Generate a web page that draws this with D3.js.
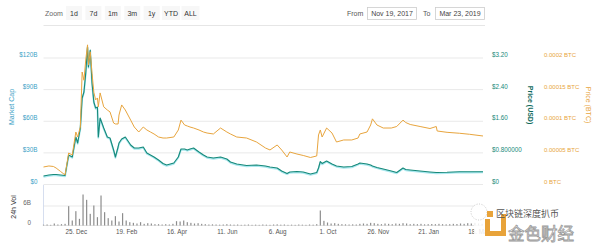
<!DOCTYPE html>
<html>
<head>
<meta charset="utf-8">
<script src="https://cdn.jsdelivr.net/npm/d3@7"></script>
<style>
  html, body { margin: 0; padding: 0; background: #fff; }
  svg { display: block; font-family: "Liberation Sans", Arial, sans-serif; }
  .domain { display: none; }
</style>
</head>
<body>
<svg id="chart" width="600" height="245"></svg>
<script>
// dates of the traced points
var dates = ["2017-11-19","2017-11-25","2017-11-30","2017-12-03","2017-12-08","2017-12-13","2017-12-17","2017-12-21",
  "2017-12-25","2017-12-27","2017-12-30","2018-01-01","2018-01-03","2018-01-05","2018-01-07","2018-01-08",
  "2018-01-10","2018-01-12","2018-01-14","2018-01-16","2018-01-18","2018-01-19","2018-01-21","2018-01-25",
  "2018-01-29","2018-02-01","2018-02-05","2018-02-07","2018-02-10","2018-02-11","2018-02-14","2018-02-18",
  "2018-02-24","2018-02-28","2018-03-05","2018-03-10","2018-03-14","2018-03-18","2018-03-22","2018-03-27",
  "2018-04-01","2018-04-05","2018-04-13","2018-04-18","2018-04-21","2018-04-25","2018-04-28","2018-05-01",
  "2018-05-05","2018-05-11","2018-05-16","2018-05-20","2018-05-27","2018-06-04","2018-06-11","2018-06-15",
  "2018-06-22","2018-07-03","2018-07-14","2018-07-24","2018-07-29","2018-08-06","2018-08-11","2018-08-17",
  "2018-08-20","2018-08-28","2018-09-04","2018-09-12","2018-09-19","2018-09-21","2018-09-23","2018-09-25",
  "2018-09-30","2018-10-06","2018-10-11","2018-10-19","2018-10-28","2018-11-04","2018-11-06","2018-11-14",
  "2018-11-18","2018-11-20","2018-11-25","2018-12-02","2018-12-11","2018-12-17","2018-12-24","2018-12-27",
  "2019-01-01","2019-01-12","2019-01-23","2019-01-30","2019-01-31","2019-02-11","2019-02-25","2019-03-08",
  "2019-03-23"];

// market cap, billions USD
var marketCap = [7.6,8.5,9.0,9.0,8.5,8.1,27.5,25.6,44.6,38.9,53.1,81.6,87.3,105.3,130.0,111.0,
  127.1,95.8,77.8,72.1,73.0,44.6,62.6,53.1,44.6,43.6,32.3,25.6,35.1,38.9,42.7,44.6,
  37.0,34.1,34.1,35.1,29.4,27.5,25.6,22.8,19.4,18.0,19.9,25.6,33.2,33.2,32.3,33.2,
  34.1,30.4,27.5,25.6,24.7,25.6,23.7,20.9,19.0,17.5,18.0,17.1,16.1,15.2,12.3,10.0,
  11.4,11.9,11.4,9.5,10.9,15.2,21.3,19.4,21.8,19.0,17.1,16.1,16.6,19.0,19.9,19.0,
  18.0,17.1,15.7,14.2,12.3,10.9,15.2,13.8,13.3,12.3,11.4,10.9,10.9,11.1,11.7,11.6,11.7];

// price in USD
var priceUsd = [0.202,0.228,0.240,0.240,0.228,0.215,0.734,0.683,1.189,1.037,1.417,2.176,2.327,2.808,3.466,2.960,
  3.390,2.555,2.074,1.923,1.948,1.189,1.670,1.417,1.189,1.164,0.860,0.683,0.936,1.037,1.138,1.189,
  0.987,0.911,0.911,0.936,0.784,0.734,0.683,0.607,0.519,0.481,0.531,0.683,0.885,0.885,0.860,0.885,
  0.911,0.810,0.734,0.683,0.658,0.683,0.632,0.557,0.506,0.468,0.481,0.455,0.430,0.405,0.329,0.266,
  0.304,0.316,0.304,0.253,0.291,0.405,0.569,0.519,0.582,0.506,0.455,0.430,0.443,0.506,0.531,0.506,
  0.481,0.455,0.417,0.379,0.329,0.291,0.405,0.367,0.354,0.329,0.304,0.291,0.291,0.296,0.311,0.309,0.311];

// price in BTC
var priceBtc = [0.0000269,0.0000285,0.0000277,0.0000253,0.0000198,0.0000142,0.0000490,0.0000458,
  0.0000822,0.0000743,0.0000901,0.000177,0.000164,0.000196,0.000220,0.000188,
  0.000209,0.000175,0.000145,0.000133,0.000136,0.000122,0.000144,0.000122,
  0.000117,0.000114,0.0000964,0.0000949,0.0000949,0.000109,0.000125,0.000117,
  0.000101,0.0000901,0.0000822,0.0000901,0.0000854,0.0000822,0.0000791,0.0000743,
  0.0000727,0.0000727,0.0000743,0.0000854,0.000101,0.0000933,0.0000917,0.0000901,
  0.0000885,0.0000854,0.0000822,0.0000806,0.0000791,0.0000885,0.0000822,0.0000791,
  0.0000743,0.0000727,0.0000664,0.0000569,0.0000538,0.0000617,0.0000538,0.0000427,
  0.0000506,0.0000474,0.0000451,0.0000419,0.0000443,0.0000775,0.0000854,0.0000743,
  0.0000885,0.0000806,0.0000664,0.0000696,0.0000696,0.0000727,0.0000791,0.0000822,
  0.0000933,0.000103,0.0000933,0.0000885,0.0000885,0.0000909,0.000101,0.0000972,
  0.0000941,0.0000909,0.0000877,0.0000909,0.0000838,0.0000817,0.0000802,0.0000786,0.0000759];

// 24h volume, billions USD, one value every 4 days from volStart
var volStart = "2017-11-19";
var volume = [0.25,0.3,0.2,0.6,0.3,0.4,0.5,5.8,1.5,4.3,2.0,9.3,7.7,3.5,6.0,2.5,
  9.0,4.0,2.2,1.5,2.8,1.2,3.7,1.5,1.0,0.8,0.6,1.0,0.5,0.7,0.6,0.4,
  0.4,0.3,0.4,0.3,0.5,1.3,1.2,1.5,1.0,0.8,0.6,0.7,0.5,0.4,0.3,0.35,
  0.3,0.25,0.3,0.4,0.3,0.25,0.3,0.2,0.25,0.3,0.2,0.25,0.2,0.3,0.25,0.2,
  0.3,0.35,0.25,0.3,0.2,0.25,0.2,0.3,0.25,0.2,0.3,0.25,0.4,4.5,1.4,0.9,
  0.6,0.7,0.5,0.4,0.35,0.3,0.35,0.3,0.5,0.6,0.5,0.8,0.7,0.5,0.4,0.6,
  0.5,0.4,0.6,0.5,0.7,0.6,0.4,0.5,0.4,0.5,0.35,0.4,0.45,0.4,0.5,0.4,
  0.35,0.4,0.5,0.45,0.6,0.5,0.7,0.6,0.8,0.6,0.5];

// axis ticks and labels
var capTicks = [0, 30, 60, 90, 120];
var capLabels = ["$0", "$30B", "$60B", "$90B", "$120B"];
var usdTicks = [0, 0.8, 1.6, 2.4, 3.2];
var usdLabels = ["$0", "$0.800000", "$1.60", "$2.40", "$3.20"];
var btcTicks = [0, 0.00005, 0.0001, 0.00015, 0.0002];
var btcLabels = ["0 BTC", "0.00005 BTC", "0.0001 BTC", "0.00015 BTC", "0.0002 BTC"];
var volTicks = [0, 6];
var volLabels = ["0", "6B"];
var dateTicks = ["2017-12-25","2018-02-19","2018-04-16","2018-06-11","2018-08-06","2018-10-01","2018-11-26","2019-01-21","2019-03-18"];
var zoomButtons = ["1d", "7d", "1m", "3m", "1y", "YTD", "ALL"];

var parse = d3.timeParse("%Y-%m-%d");
var svg = d3.select("#chart");

var left = 43.5, right = 483;
var x = d3.scaleTime().domain([parse("2017-11-19"), parse("2019-03-23")]).range([left, right]);
var yCap = d3.scaleLinear().domain([0, 120]).range([184, 57.5]);
var yUsd = d3.scaleLinear().domain([0, 3.2]).range([184, 57.5]);
var yBtc = d3.scaleLinear().domain([0, 0.0002]).range([184, 57.5]);
var yVol = d3.scaleLinear().domain([0, 6]).range([225.5, 205.5]);

var capColor = "#3d9fc6", usdColor = "#17897a", btcColor = "#e8a53e";

// header: zoom buttons + date range
var head = svg.append("g");
head.append("text").attr("x", 45).attr("y", 15.5).attr("font-size", 7).attr("fill", "#666").text("Zoom");
var bx = d3.scalePoint().domain(zoomButtons).range([74, 190.5]);
var btn = head.selectAll("g.btn").data(zoomButtons).enter().append("g").attr("class", "btn")
  .attr("transform", function(d){ return "translate(" + bx(d) + ",0)"; });
btn.append("rect").attr("x", function(d){ return d.length > 2 ? -9 : -8; }).attr("y", 6)
  .attr("width", function(d){ return d.length > 2 ? 18 : 16; }).attr("height", 14).attr("fill", "#f7f7f7");
btn.append("text").attr("text-anchor", "middle").attr("y", 15.5).attr("font-size", 7).attr("fill", "#333").text(function(d){ return d; });

head.append("text").attr("x", 347).attr("y", 15.5).attr("font-size", 7).attr("fill", "#555").text("From");
head.append("rect").attr("x", 367.5).attr("y", 7.5).attr("width", 49).attr("height", 12).attr("fill", "#fff").attr("stroke", "#ccc").attr("stroke-width", 0.8);
head.append("text").attr("x", 392).attr("y", 15.5).attr("text-anchor", "middle").attr("font-size", 7).attr("fill", "#444").text("Nov 19, 2017");
head.append("text").attr("x", 423).attr("y", 15.5).attr("font-size", 7).attr("fill", "#555").text("To");
head.append("rect").attr("x", 435.5).attr("y", 7.5).attr("width", 49).attr("height", 12).attr("fill", "#fff").attr("stroke", "#ccc").attr("stroke-width", 0.8);
head.append("text").attr("x", 460).attr("y", 15.5).attr("text-anchor", "middle").attr("font-size", 7).attr("fill", "#444").text("Mar 23, 2019");
head.append("line").attr("x1", left).attr("x2", 485).attr("y1", 25.5).attr("y2", 25.5).attr("stroke", "#e6e6e6");

// gridlines
svg.append("g").attr("transform", "translate(" + left + ",0)")
  .call(d3.axisLeft(yCap).tickValues(capTicks).tickSize(-(right - left)).tickFormat(""))
  .call(function(g){ g.selectAll(".tick line").attr("stroke", "#e9e9e9"); });

// left axis: market cap
svg.append("g").attr("transform", "translate(" + (left - 6) + ",0)")
  .call(d3.axisLeft(yCap).tickValues(capTicks).tickSize(0).tickPadding(0).tickFormat(function(d, i){ return capLabels[i]; }))
  .call(function(g){ g.selectAll("text").attr("font-size", 6.3).attr("fill", capColor).attr("dy", "-0.15em"); });
svg.append("text").attr("transform", "translate(14,107) rotate(-90)").attr("text-anchor", "middle")
  .attr("font-size", 7).attr("fill", capColor).text("Market Cap");

// right axis: USD price
svg.append("g").attr("transform", "translate(492,0)")
  .call(d3.axisRight(yUsd).tickValues(usdTicks).tickSize(0).tickPadding(0).tickFormat(function(d, i){ return usdLabels[i]; }))
  .call(function(g){ g.selectAll("text").attr("font-size", 6.3).attr("fill", usdColor).attr("dy", "-0.15em"); });
svg.append("text").attr("transform", "translate(528,105) rotate(90)").attr("text-anchor", "middle")
  .attr("font-size", 7).attr("font-weight", "bold").attr("fill", "#0f6a5c").text("Price (USD)");

// right axis: BTC price
svg.append("g").attr("transform", "translate(544,0)")
  .call(d3.axisRight(yBtc).tickValues(btcTicks).tickSize(0).tickPadding(0).tickFormat(function(d, i){ return btcLabels[i]; }))
  .call(function(g){ g.selectAll("text").attr("font-size", 6).attr("fill", btcColor).attr("dy", "-0.15em"); });
svg.append("text").attr("transform", "translate(586,105) rotate(90)").attr("text-anchor", "middle")
  .attr("font-size", 7).attr("fill", btcColor).text("Price (BTC)");

// price lines
var pts = dates.map(function(d, i){ return { date: parse(d), cap: marketCap[i], usd: priceUsd[i], btc: priceBtc[i] }; });
svg.append("path").datum(pts).attr("fill", "none").attr("stroke", "#a9e7ee").attr("stroke-width", 1.8)
  .attr("stroke-linejoin", "round")
  .attr("d", d3.line().x(function(d){ return x(d.date); }).y(function(d){ return yCap(d.cap) + 0.8; }));
svg.append("path").datum(pts).attr("fill", "none").attr("stroke", usdColor).attr("stroke-width", 1.1)
  .attr("stroke-linejoin", "round")
  .attr("d", d3.line().x(function(d){ return x(d.date); }).y(function(d){ return yUsd(d.usd); }));
svg.append("path").datum(pts).attr("fill", "none").attr("stroke", btcColor).attr("stroke-width", 1)
  .attr("stroke-linejoin", "round")
  .attr("d", d3.line().x(function(d){ return x(d.date); }).y(function(d){ return yBtc(d.btc); }));

// volume panel
var vol = svg.append("g");
vol.append("g").attr("transform", "translate(" + left + ",0)")
  .call(d3.axisLeft(yVol).tickValues([6]).tickSize(-(right - left)).tickFormat(""))
  .call(function(g){ g.selectAll(".tick line").attr("stroke", "#e9e9e9"); });
vol.append("line").attr("x1", left).attr("x2", left).attr("y1", 185).attr("y2", 225.5).attr("stroke", "#ccd6eb").attr("stroke-width", 0.8);
vol.append("line").attr("x1", left).attr("x2", right).attr("y1", 225.5).attr("y2", 225.5).attr("stroke", "#ddd").attr("stroke-width", 0.8);
vol.append("g").attr("transform", "translate(31,0)")
  .call(d3.axisLeft(yVol).tickValues(volTicks).tickSize(0).tickPadding(0).tickFormat(function(d, i){ return volLabels[i]; }))
  .call(function(g){ g.selectAll("text").attr("font-size", 6.3).attr("fill", "#666").attr("dy", "-0.15em"); });
vol.append("text").attr("transform", "translate(16,207) rotate(-90)").attr("text-anchor", "middle")
  .attr("font-size", 7).attr("fill", "#333").text("24h Vol");

var v0 = parse(volStart);
vol.selectAll("rect.bar").data(volume).enter().append("rect").attr("class", "bar")
  .attr("x", function(d, i){ return x(d3.timeDay.offset(v0, i * 4)) - 0.6; })
  .attr("width", 1.2)
  .attr("y", function(d){ return yVol(d); })
  .attr("height", function(d){ return yVol(0) - yVol(d); })
  .attr("fill", "#8d8d8d");

// x axis
svg.append("g").attr("transform", "translate(0,225.5)")
  .call(d3.axisBottom(x).tickValues(dateTicks.map(parse)).tickSize(0).tickPadding(4)
    .tickFormat(d3.timeFormat("%-d. %b")))
  .call(function(g){ g.selectAll("text").attr("font-size", 6.3).attr("fill", "#555"); });

// watermark
var wm = svg.append("g");
wm.append("circle").attr("cx", 479).attr("cy", 212).attr("r", 8).attr("fill", "#fff").attr("fill-opacity", 0.85)
  .attr("stroke", "#bbb").attr("stroke-dasharray", "1,1.5").attr("stroke-width", 0.8);
wm.append("rect").attr("x", 474).attr("y", 222).attr("width", 16).attr("height", 23).attr("fill", "#fff").attr("fill-opacity", 0.85);
wm.append("path").attr("d", "M485,219 h5 v12 h11 v-17 h5 v22 h-21 z").attr("fill", "#e8a33a");
wm.append("rect").attr("x", 487).attr("y", 211).attr("width", 6).attr("height", 6).attr("fill", "#e8a33a");
wm.append("text").attr("x", 496).attr("y", 216.5).attr("font-size", 9).attr("fill", "#555")
  .attr("font-family", "Noto Sans CJK SC").text("区块链深度扒币");
wm.append("text").attr("x", 508).attr("y", 240).attr("font-size", 16.5).attr("fill", "#fff").attr("stroke", "#999")
  .attr("stroke-width", 0.8).attr("font-family", "Noto Sans CJK SC").text("金色财经");
</script>
</body>
</html>
